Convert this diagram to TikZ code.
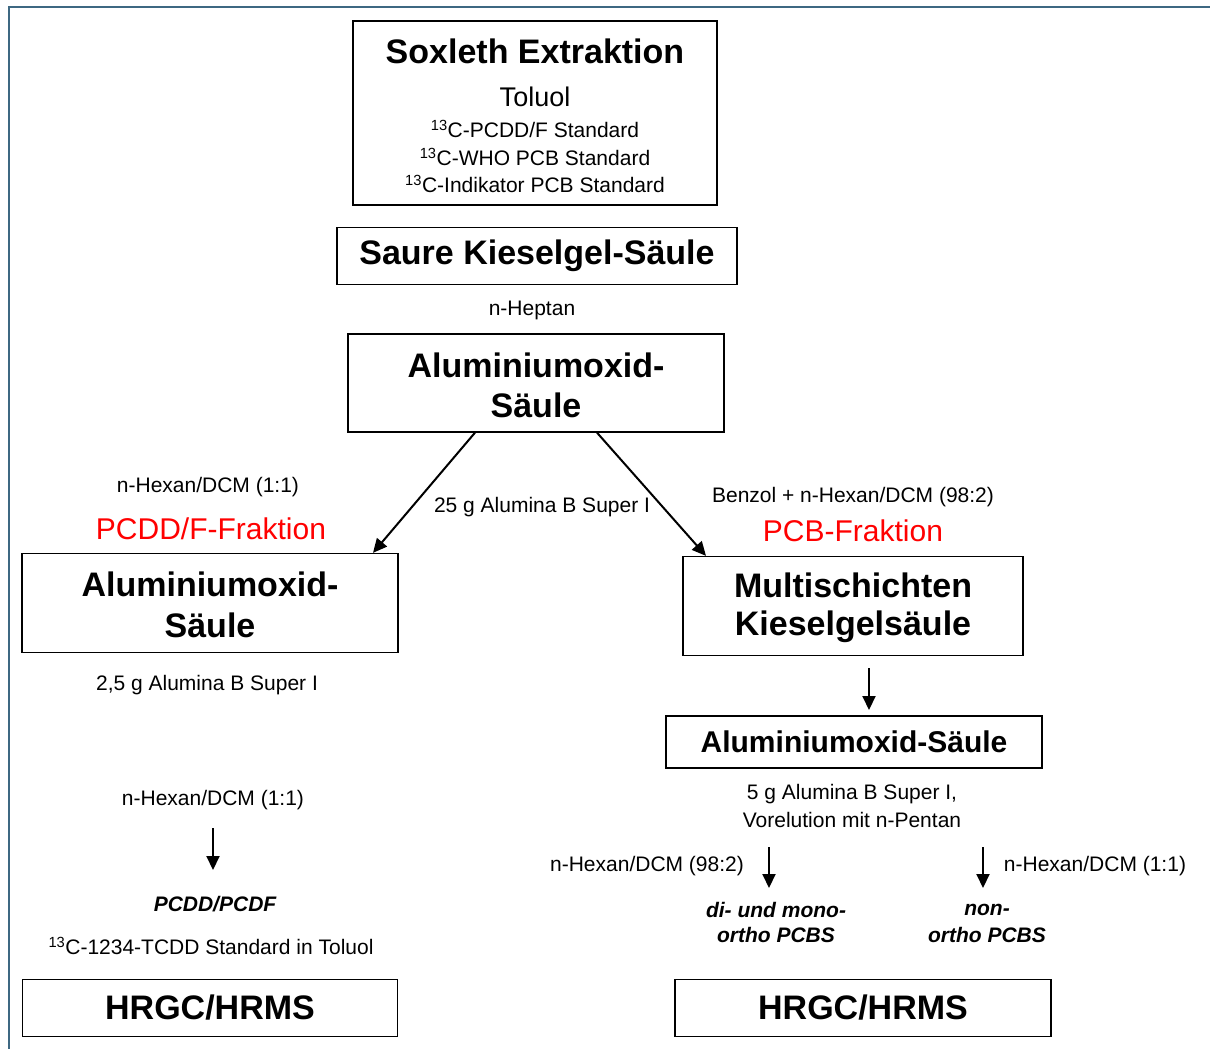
\documentclass[tikz,border=0pt]{standalone}
\usepackage{fontspec}
\setmainfont{Liberation Sans}
\usetikzlibrary{arrows.meta}

\definecolor{framecol}{RGB}{62,104,130}
\newcommand{\headfont}{\fontsize{34}{40}\selectfont\bfseries}
\newcommand{\midfont}{\fontsize{30}{36}\selectfont\bfseries}
\newcommand{\txtfont}{\fontsize{21}{25}\selectfont}
\newcommand{\redfont}{\fontsize{30}{36}\selectfont\color{red}}

\tikzset{
  box/.style={draw, line width=1.3pt, inner sep=0pt},
  txt/.style={inner sep=0pt, font=\txtfont},
  flow/.style={line width=2pt, -{Triangle[length=14pt,width=13pt]}}
}

\begin{document}
\begin{tikzpicture}[x=1pt,y=-1pt]
    \useasboundingbox (0,0) rectangle (1210,1049);
    \draw[framecol, line width=2.2pt] (9,1049) -- (9,7) -- (1210,7);

    % Soxleth Extraktion
    \node[box, minimum width=364, minimum height=184] (sox) at (535,113) {};
    \node[inner sep=0pt, font=\headfont] (soxt) at (535,51) {Soxleth Extraktion};
    \node[inner sep=0pt, font=\fontsize{27}{32}\selectfont] (tol) at (535,97) {Toluol};
    \node[txt] (std1) at (535,129) {\textsuperscript{13}C-PCDD/F Standard};
    \node[txt] (std2) at (535,157) {\textsuperscript{13}C-WHO PCB Standard};
    \node[txt] (std3) at (535,184) {\textsuperscript{13}C-Indikator PCB Standard};

    \node[box, minimum width=400, minimum height=57, font=\headfont] (saure) at (537,256) {Saure Kieselgel-S\"aule};
    \node[txt] (hept) at (532,310) {n-Heptan};

    \node[box, minimum width=376, minimum height=98] (alu) at (536,383) {};
    \node[inner sep=0pt, font=\headfont] (alut1) at (536,365) {Aluminiumoxid-};
    \node[inner sep=0pt, font=\headfont] (alut2) at (536,405) {S\"aule};

    % left branch
    \node[txt] (hexl) at (208,487) {n-Hexan/DCM (1:1)};
    \node[inner sep=0pt, font=\redfont] (frl) at (211,529) {PCDD/F-Fraktion};
    \node[txt] (al25) at (542,507) {25 g Alumina B Super I};
    \node[box, minimum width=376, minimum height=99] (alul) at (210,603) {};
    \node[inner sep=0pt, font=\headfont] (alul1) at (210,584) {Aluminiumoxid-};
    \node[inner sep=0pt, font=\headfont] (alul2) at (210,625) {S\"aule};
    \node[txt] (al2) at (207,685) {2,5 g Alumina B Super I};
    \node[txt] (hexl2) at (213,800) {n-Hexan/DCM (1:1)};
    \coordinate (la1) at (213,828);
    \coordinate (la2) at (213,870);
    \node[txt, font=\txtfont\bfseries\itshape] (pcdd) at (215,904) {PCDD/PCDF};
    \node[txt] (tcdd) at (211,946) {\textsuperscript{13}C-1234-TCDD Standard in Toluol};
    \node[box, minimum width=375, minimum height=57, font=\headfont] (hrl) at (210,1008) {HRGC/HRMS};

    % right branch
    \node[txt] (benz) at (853,497) {Benzol + n-Hexan/DCM (98:2)};
    \node[inner sep=0pt, font=\redfont] (frr) at (853,531) {PCB-Fraktion};
    \node[box, minimum width=340, minimum height=99] (multi) at (853,606) {};
    \node[inner sep=0pt, font=\headfont] (multi1) at (853,585) {Multischichten};
    \node[inner sep=0pt, font=\headfont] (multi2) at (853,627) {Kieselgels\"aule};
    \coordinate (ra1) at (869,668);
    \coordinate (ra2) at (869,710);
    \node[box, minimum width=376, minimum height=52, font=\midfont] (alur) at (854,742) {Aluminiumoxid-S\"aule};
    \node[txt] (al5a) at (852,794) {5 g Alumina B Super I,};
    \node[txt] (al5b) at (852,820) {Vorelution mit n-Pentan};
    \coordinate (ma1) at (769,847);
    \coordinate (ma2) at (769,888);
    \coordinate (na1) at (983,847);
    \coordinate (na2) at (983,888);
    \node[txt] (hexm) at (647,866) {n-Hexan/DCM (98:2)};
    \node[txt] (hexn) at (1095,866) {n-Hexan/DCM (1:1)};
    \node[txt, font=\txtfont\bfseries\itshape] (mono1) at (776,910) {di- und mono-};
    \node[txt, font=\txtfont\bfseries\itshape] (mono2) at (776,935) {ortho PCBS};
    \node[txt, font=\txtfont\bfseries\itshape] (non1) at (987,910) {non-};
    \node[txt, font=\txtfont\bfseries\itshape] (non2) at (987,935) {ortho PCBS};
    \node[box, minimum width=376, minimum height=57, font=\headfont] (hrr) at (863,1008) {HRGC/HRMS};

    \draw[flow] (alu.south -| 475,0) -- (alul.north -| 373,0);
    \draw[flow] (alu.south -| 597,0) -- (multi.north -| 706,0);
    \draw[flow] (ra1) -- (ra2);
    \draw[flow] (la1) -- (la2);
    \draw[flow] (ma1) -- (ma2);
    \draw[flow] (na1) -- (na2);
\end{tikzpicture}
\end{document}
